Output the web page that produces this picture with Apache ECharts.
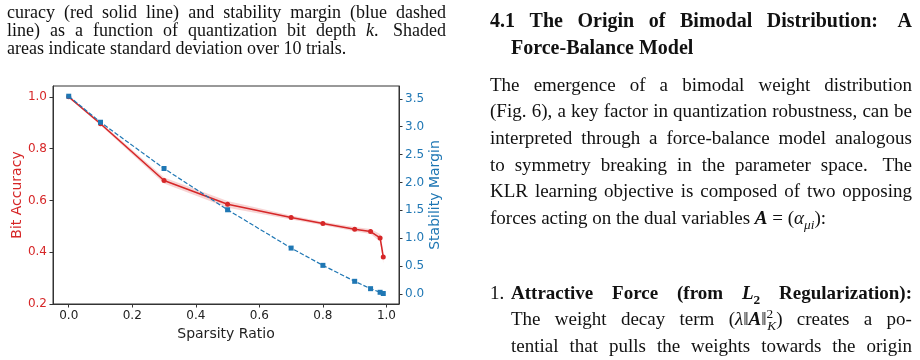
<!DOCTYPE html>
<html>
<head>
<meta charset="utf-8">
<script src="https://cdn.jsdelivr.net/npm/echarts@6/dist/echarts.min.js"></script>
<style>
  html, body { margin: 0; padding: 0; background: #fff; }
  #page { position: relative; width: 920px; height: 360px; overflow: hidden; }
  #chart { position: absolute; left: 0; top: 0; width: 920px; height: 360px; }
  .ln { position: absolute; font-family: "Liberation Serif", "Times New Roman", serif; color: #111; white-space: nowrap; }
  .cap { font-size: 18px; line-height: 20px; left: 7px; width: 439px; }
  .body { font-size: 19px; line-height: 24px; }
  .head { font-size: 20px; line-height: 24px; font-weight: bold; }
  .b { font-weight: bold; }
  .j { display: flex; justify-content: space-between; }
  sub, sup { font-size: 0.7em; line-height: 0; }
  sup + sub { margin-left: -0.45em; }
</style>
</head>
<body>
<div id="page">
  <div id="chart"></div>

  <div class="ln cap j" style="top:2px">curacy (red solid line) and stability margin (blue dashed</div>
  <div class="ln cap j" style="top:20px">line) as a function of quantization bit depth <i>k</i>. &nbsp;Shaded</div>
  <div class="ln cap" style="top:38px">areas indicate standard deviation over 10 trials.</div>

  <div class="ln head j" style="top:8px;left:490px;width:422px">4.1 The Origin of Bimodal Distribution: &nbsp;A</div>
  <div class="ln head" style="top:35px;left:511px">Force-Balance Model</div>

  <div class="ln body j" style="top:73px;left:490px;width:422px">The emergence of a bimodal weight distribution</div>
  <div class="ln body j" style="top:99px;left:490px;width:422px">(Fig. 6), a key factor in quantization robustness, can be</div>
  <div class="ln body j" style="top:126px;left:490px;width:422px">interpreted through a force-balance model analogous</div>
  <div class="ln body j" style="top:153px;left:490px;width:422px">to symmetry breaking in the parameter space. &nbsp;The</div>
  <div class="ln body j" style="top:179px;left:490px;width:422px">KLR learning objective is composed of two opposing</div>
  <div class="ln body" style="top:206px;left:490px">forces acting on the dual variables <b><i>A</i></b> = (<i>α</i><sub><i>μi</i></sub>):</div>

  <div class="ln body" style="top:281px;left:490px">1.</div>
  <div class="ln body b j" style="top:281px;left:511px;width:401px">Attractive Force (from <i>L</i><sub>2</sub> Regularization):</div>
  <div class="ln body j" style="top:307px;left:511px;width:401px">The weight decay term (<i>λ</i>‖<b><i>A</i></b>‖<sup>2</sup><sub><i>K</i></sub>) creates a po-</div>
  <div class="ln body j" style="top:334px;left:511px;width:401px">tential that pulls the weights towards the origin</div>
</div>

<script>
// split justified lines into words so flex can spread them
document.querySelectorAll('.j').forEach(function (el) {
  el.innerHTML = el.innerHTML.trim().split(' ').map(function (w) { return '<span>' + w + '</span>'; }).join('');
});

const sparsity = [0, 0.1, 0.3, 0.5, 0.7, 0.8, 0.9, 0.95, 0.98, 0.99];
const bitAccuracy = [1.0, 0.896, 0.677, 0.585, 0.534, 0.511, 0.489, 0.48, 0.455, 0.382];
const accuracyStd = [0.003, 0.006, 0.012, 0.013, 0.008, 0.007, 0.008, 0.01, 0.015, 0.026];
const stabilityMargin = [3.547, 3.08, 2.25, 1.51, 0.823, 0.513, 0.227, 0.095, 0.03, 0.008];

const xTicks = [0, 0.2, 0.4, 0.6, 0.8, 1.0];
const accuracyTicks = [0.2, 0.4, 0.6, 0.8, 1.0];
const marginTicks = [0, 0.5, 1.0, 1.5, 2.0, 2.5, 3.0, 3.5];

const RED = '#d62728';
const BLUE = '#1f77b4';
const FONT = 'DejaVu Sans';

const chart = echarts.init(document.getElementById('chart'), null, { renderer: 'canvas' });

function tickAxis(ticks, color) {
  return {
    axisLine: { show: true, onZero: false, lineStyle: { color: '#333', width: 1 } },
    splitLine: { show: false },
    axisTick: { show: true, length: 3.5, customValues: ticks, lineStyle: { color: '#333', width: 1 } },
    axisLabel: {
      customValues: ticks,
      formatter: v => v.toFixed(1),
      color: color,
      fontFamily: FONT,
      fontSize: 12,
      margin: 6,
    },
  };
}

// shaded std band drawn as one polygon through the axis scales
function renderBand(params, api) {
  const upper = sparsity.map((x, i) => api.coord([x, bitAccuracy[i] + accuracyStd[i]]));
  const lower = sparsity.map((x, i) => api.coord([x, bitAccuracy[i] - accuracyStd[i]])).reverse();
  return {
    type: 'polygon',
    shape: { points: upper.concat(lower) },
    style: { fill: RED, opacity: 0.2 },
    silent: true,
  };
}

const option = {
  animation: false,
  backgroundColor: 'transparent',
  grid: {
    left: 53, top: 86, width: 346, height: 218,
    show: true, borderColor: '#333', borderWidth: 1, backgroundColor: 'transparent',
  },
  xAxis: {
    type: 'value',
    min: -0.0495,
    max: 1.0395,
    ...tickAxis(xTicks, '#222'),
    name: 'Sparsity Ratio',
    nameLocation: 'middle',
    nameGap: 14,
    nameTextStyle: { color: '#222', fontFamily: FONT, fontSize: 14 },
  },
  yAxis: [
    {
      type: 'value',
      position: 'left',
      min: 0.2,
      max: 1.042,
      ...tickAxis(accuracyTicks, RED),
      name: 'Bit Accuracy',
      nameLocation: 'middle',
      nameRotate: 90,
      nameGap: 29,
      nameTextStyle: { color: RED, fontFamily: FONT, fontSize: 14 },
    },
    {
      type: 'value',
      position: 'right',
      min: -0.18,
      max: 3.73,
      ...tickAxis(marginTicks, BLUE),
      name: 'Stability Margin',
      nameLocation: 'middle',
      nameRotate: 90,
      nameGap: 26,
      nameTextStyle: { color: BLUE, fontFamily: FONT, fontSize: 14 },
    },
  ],
  series: [
    {
      type: 'custom',
      yAxisIndex: 0,
      data: [[sparsity[0], bitAccuracy[0]]],
      renderItem: renderBand,
      silent: true,
      z: 1,
    },
    {
      type: 'line',
      yAxisIndex: 0,
      data: sparsity.map((x, i) => [x, bitAccuracy[i]]),
      symbol: 'circle',
      symbolSize: 5,
      itemStyle: { color: RED },
      lineStyle: { color: RED, width: 1.5 },
      z: 3,
    },
    {
      type: 'line',
      yAxisIndex: 1,
      data: sparsity.map((x, i) => [x, stabilityMargin[i]]),
      symbol: 'rect',
      symbolSize: 5,
      itemStyle: { color: BLUE },
      lineStyle: { color: BLUE, width: 1.2, type: [4.5, 2] },
      z: 4,
    },
  ],
};

chart.setOption(option);
</script>
</body>
</html>
